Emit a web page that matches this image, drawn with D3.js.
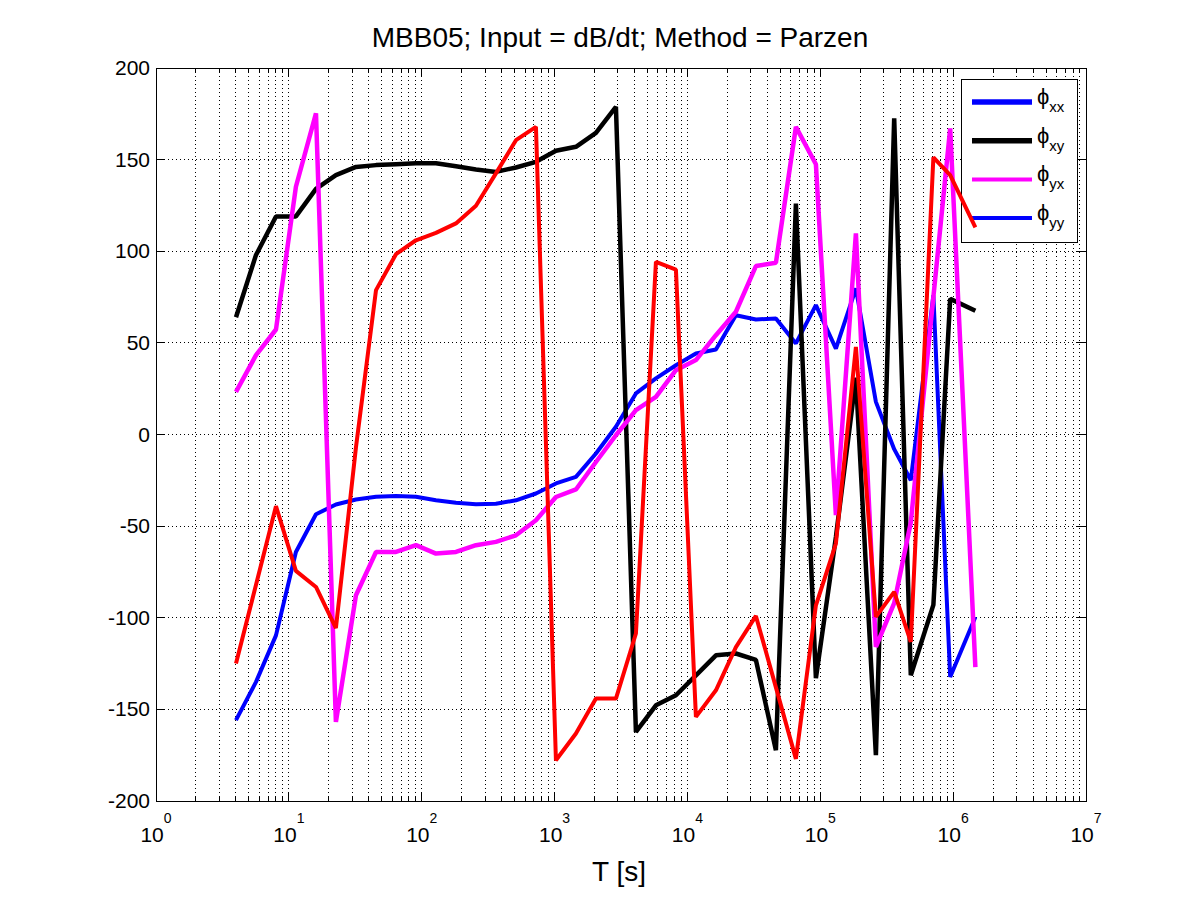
<!DOCTYPE html>
<html>
<head>
<meta charset="utf-8">
<script src="https://cdn.jsdelivr.net/npm/d3@7"></script>
<style>
body { margin: 0; background: #fff; }
text { font-family: "Liberation Sans", Arial, Helvetica, sans-serif; fill: #000; }
</style>
</head>
<body>
<svg width="1200" height="900"></svg>
<script>
// periods (s) of each estimate
var periods = [4, 5.66, 8, 11.3, 16, 22.6, 32, 45.3, 64, 90.5, 128, 181, 256, 362, 512, 724,
  1024, 1448, 2048, 2896, 4096, 5793, 8192, 11585, 16384, 23170, 32768, 46341, 65536, 92682,
  131072, 185364, 262144, 360000, 480000, 710000, 950000, 1470000];

// phases in degrees
var phiBlue = [-155.9, -135, -109.6, -64.1, -43.5, -38.2, -35.5, -34, -33.6, -34, -35.9, -37.3, -38,
  -37.8, -35.9, -32.2, -26.7, -23.1, -10.4, 4.2, 22.4, 30.6, 37.8, 44.2, 46.4, 65.1, 62.8, 63.3,
  49.7, 70.6, 46.9, 79.7, 17.8, -8, -25, 76, -132.3, -99.6];
var phiBlack = [64, 98, 119, 119, 134, 141.5, 146, 147, 147.5, 148, 148, 146.4, 144.6, 143.3, 145.7,
  148.8, 154.8, 157, 164.6, 178.8, -162.3, -147.8, -142.3, -131.4, -120.5, -119.5, -123, -172.3,
  126, -133, -56, 31, -175, 172.5, -131.4, -93, 74, 67.5];
var phiMagenta = [23.3, 43.3, 57.3, 135.2, 175.2, -156.9, -87.7, -64.1, -64.1, -60.4, -65, -64.1, -60.4,
  -58.6, -55, -46.8, -34.1, -30, -15, -0.4, 13.3, 20.5, 35.1, 40.6, 54.2, 67, 91.9, 93.7, 167.9,
  147.5, -44, 109.7, -115.9, -92, -48, 75, 167, -127];
var phiRed = [-125, -82, -39.1, -74.4, -83.2, -105.6, -7, 78.8, 98.4, 106, 110, 115.2, 124.8, 142.5,
  160.6, 167.9, -177.8, -163.2, -144.1, -144.1, -108.6, 94.2, 90, -154.1, -139.6, -116, -99, -138,
  -177, -93.2, -59.5, 47.8, -99.5, -85.9, -113.2, 151.2, 141.5, 113];

var yTicks = [-200, -150, -100, -50, 0, 50, 100, 150, 200];
var xDecades = [0, 1, 2, 3, 4, 5, 6, 7];
var legendSubs = ["xx", "xy", "yx", "yy"];
var legendColors = ["#0000ff", "#000000", "#ff00ff", "#0000ff"];
var legendWidths = [5.5, 5.5, 4, 4];

var svg = d3.select("svg");
svg.append("rect").attr("width", 1200).attr("height", 900).attr("fill", "#fff");

var x = d3.scaleLog().domain([1, 1e7]).range([156, 1086]);
var y = d3.scaleLinear().domain([-200, 200]).range([801, 68]);

// minor + major log grid positions
var gridX = [];
xDecades.slice(0, 7).forEach(function(d) {
  for (var m = 1; m < 10; m++) gridX.push(m * Math.pow(10, d));
});

var grid = svg.append("g").attr("stroke", "#000").attr("stroke-width", 1)
  .attr("stroke-dasharray", "1,3").attr("shape-rendering", "crispEdges");
grid.selectAll(".gx").data(gridX.filter(function(v){ return v > 1; })).join("line")
  .attr("x1", function(d){ return x(d); }).attr("x2", function(d){ return x(d); })
  .attr("y1", 68).attr("y2", 801);
grid.selectAll(".gy").data(yTicks.slice(1, -1)).join("line")
  .attr("x1", 156).attr("x2", 1086)
  .attr("y1", function(d){ return y(d); }).attr("y2", function(d){ return y(d); });

// ticks (inward, both sides)
var ticks = svg.append("g").attr("stroke", "#000").attr("stroke-width", 1).attr("shape-rendering", "crispEdges");
yTicks.forEach(function(d) {
  ticks.append("line").attr("x1", 156).attr("x2", 165).attr("y1", y(d)).attr("y2", y(d));
  ticks.append("line").attr("x1", 1086).attr("x2", 1077).attr("y1", y(d)).attr("y2", y(d));
});
gridX.forEach(function(d) {
  var len = (Math.log10(d) % 1 === 0) ? 9 : 5;
  ticks.append("line").attr("x1", x(d)).attr("x2", x(d)).attr("y1", 801).attr("y2", 801 - len);
  ticks.append("line").attr("x1", x(d)).attr("x2", x(d)).attr("y1", 68).attr("y2", 68 + len);
});

// tick labels
svg.selectAll(".ylab").data(yTicks).join("text")
  .attr("x", 150).attr("y", function(d){ return y(d) + 7; })
  .attr("text-anchor", "end").attr("font-size", 21)
  .text(function(d){ return d; });

var xl = svg.selectAll(".xlab").data(xDecades).join("text")
  .attr("x", function(d){ return x(Math.pow(10, d)); }).attr("y", 842)
  .attr("text-anchor", "middle").attr("font-size", 21);
xl.append("tspan").text("10");
xl.append("tspan").attr("dy", -19).attr("font-size", 14).text(function(d){ return d; });

// legend (curves are drawn over it)
var lg = svg.append("g");
lg.append("rect").attr("x", 961).attr("y", 79).attr("width", 116).attr("height", 163)
  .attr("fill", "#fff").attr("stroke", "#000").attr("stroke-width", 1).attr("shape-rendering", "crispEdges");
legendSubs.forEach(function(s, i) {
  var ly = 102 + i * 38.7;
  lg.append("line").attr("x1", 972).attr("x2", 1032).attr("y1", ly).attr("y2", ly)
    .attr("stroke", legendColors[i]).attr("stroke-width", legendWidths[i]);
  var t = lg.append("text").attr("x", 1037).attr("y", ly + 2).attr("font-size", 22);
  t.append("tspan").text("\u03D5");
  t.append("tspan").attr("dy", 8).attr("font-size", 15).text(s);
});

// phase curves
var line = d3.line()
  .x(function(d){ return x(d[0]); })
  .y(function(d){ return y(d[1]); });

var series = [
  { vals: phiBlue, color: "#0000ff", w: 4 },
  { vals: phiBlack, color: "#000000", w: 4.5 },
  { vals: phiMagenta, color: "#ff00ff", w: 4.5 },
  { vals: phiRed, color: "#ff0000", w: 4 }
];
svg.append("g").selectAll("path").data(series).join("path")
  .attr("d", function(s){ return line(d3.zip(periods, s.vals)); })
  .attr("fill", "none")
  .attr("stroke", function(s){ return s.color; })
  .attr("stroke-width", function(s){ return s.w; })
  .attr("stroke-linejoin", "bevel");

// axes box
svg.append("rect").attr("x", 156).attr("y", 68).attr("width", 930).attr("height", 733)
  .attr("fill", "none").attr("stroke", "#000").attr("stroke-width", 1).attr("shape-rendering", "crispEdges");

// titles
svg.append("text").attr("x", 620).attr("y", 47).attr("text-anchor", "middle")
  .attr("font-size", 28).text("MBB05; Input = dB/dt; Method = Parzen");
svg.append("text").attr("x", 619).attr("y", 881).attr("text-anchor", "middle")
  .attr("font-size", 28).text("T [s]");
</script>
</body>
</html>
